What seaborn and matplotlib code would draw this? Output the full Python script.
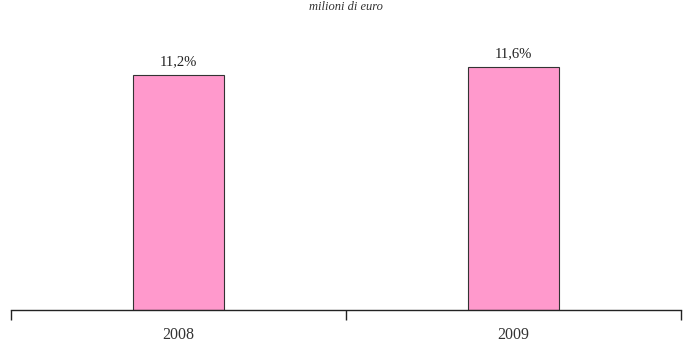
import matplotlib
matplotlib.use("Agg")
import matplotlib.pyplot as plt
import seaborn as sns
import pandas as pd

years = ["2008", "2009"]
values = [11.2, 11.6]
value_labels = ["11,2%", "11,6%"]

sns.set_theme(style="white")
plt.rcParams["font.family"] = ["Liberation Serif", "DejaVu Serif"]

df = pd.DataFrame({"anno": years, "valore": values})

fig = plt.figure(figsize=(6.92, 3.45), dpi=100)
ax = fig.add_axes([11 / 692, 35 / 345, 670 / 692, 280 / 345])

sns.barplot(data=df, x="anno", y="valore", ax=ax, color="#FF99CC",
            width=0.27, edgecolor="#333333", linewidth=0.8, saturation=1)

ax.set_ylim(0, 280 / (243 / 11.6))
ax.set_xlim(-0.5, 1.5)

for i, (v, lab) in enumerate(zip(values, value_labels)):
    ax.annotate(lab, (i, v), xytext=(0, 5), textcoords="offset points",
                ha="center", va="bottom", fontsize=10.5, color="#222222")

# category boundaries carry the tick marks, labels sit between them
ax.set_xticks([-0.5, 0.5, 1.5])
ax.set_xticklabels([])
ax.set_xticks([0, 1], minor=True)
ax.set_xticklabels(years, minor=True, fontsize=11.5, color="#333333")
ax.tick_params(axis="x", which="major", length=7, width=1, color="#222222",
               bottom=True, direction="out")
ax.tick_params(axis="x", which="minor", length=0, pad=12)
ax.set_yticks([])
ax.set_xlabel("")
ax.set_ylabel("")
for side in ["top", "right", "left"]:
    ax.spines[side].set_visible(False)
ax.spines["bottom"].set_color("#222222")
ax.spines["bottom"].set_linewidth(1)

fig.text(346 / 692, 1 - 7 / 345, "milioni di euro", ha="center", va="center",
         fontsize=9, style="italic", color="#333333")

fig.savefig("out.png", dpi=100)
